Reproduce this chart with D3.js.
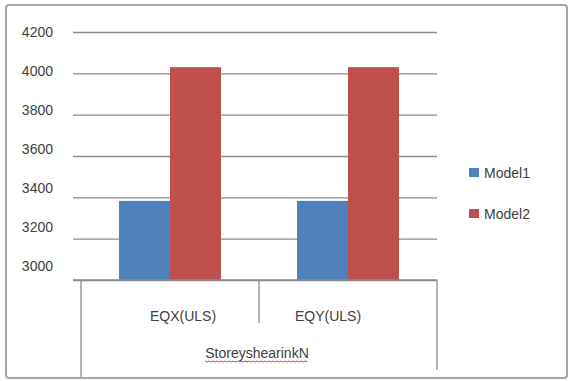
<!DOCTYPE html>
<html><head><meta charset="utf-8">
<script src="https://cdn.jsdelivr.net/npm/d3@7"></script>
<style>html,body{margin:0;padding:0;background:#fff;}svg{display:block;font-family:"Liberation Sans",Arial,sans-serif;}</style>
</head><body>
<svg id="c" width="569" height="381"></svg>
<script>
const categories = ["EQX(ULS)", "EQY(ULS)"];
const groupLabel = "StoreyshearinkN";
const seriesNames = ["Model1", "Model2"];
const model1 = [3383, 3383];
const model2 = [4030, 4030];
const yTicks = [3000, 3200, 3400, 3600, 3800, 4000, 4200];
const colors = ["#4F81BD", "#C0504D"];

(function () {
const svg = d3.select("#c");
const pLeft = 81, pRight = 437, pTop = 32, pBottom = 280;

svg.append("rect").attr("x", 6).attr("y", 5).attr("width", 561).attr("height", 373)
  .attr("rx", 3).attr("fill", "#fff").attr("stroke", "#a6a6a6").attr("stroke-width", 2);

const x0 = d3.scaleBand().domain(categories).range([pLeft, pRight]).paddingInner(0).paddingOuter(0);
const x1 = d3.scaleBand().domain(seriesNames).range([0, x0.bandwidth()]).paddingInner(0).paddingOuter(0.745);
const y = d3.scaleLinear().domain([3000, 4200]).range([pBottom, pTop]);
// tick labels in the reference sit on a slightly compressed scale
const yLab = d3.scaleLinear().domain([3000, 4200]).range([266, pTop]);

const yAxis = d3.axisLeft(y).tickValues(yTicks).tickSize(0).tickFormat(d3.format("d")).tickPadding(20);
const gy = svg.append("g").attr("transform", `translate(${pLeft - 8},0)`).call(yAxis);
gy.select(".domain").remove();
gy.selectAll(".tick line").attr("x1", 0).attr("x2", pRight - pLeft + 8)
  .attr("stroke", "#8c8c8c").attr("stroke-width", 1.3);
gy.selectAll(".tick text").attr("x", -20).attr("fill", "#404040").style("font-size", "14px")
  .attr("y", d => yLab(d) - y(d))
  .style("font-family", "'Liberation Sans',Arial,sans-serif");

const data = categories.map((c, i) => ({cat: c, vals: [model1[i], model2[i]]}));
const g = svg.append("g");
data.forEach(d => {
  d.vals.forEach((v, j) => {
    g.append("rect")
      .attr("x", x0(d.cat) + x1(seriesNames[j]))
      .attr("y", y(v))
      .attr("width", x1.bandwidth())
      .attr("height", y(3000) - y(v))
      .attr("fill", colors[j]);
  });
});

const ax = svg.append("g").attr("stroke", "#8c8c8c").attr("stroke-width", 1.3);
ax.append("line").attr("x1", pLeft - 8).attr("x2", pRight).attr("y1", pBottom).attr("y2", pBottom);
ax.append("line").attr("x1", pLeft).attr("x2", pLeft).attr("y1", pBottom).attr("y2", 377);
ax.append("line").attr("x1", x0(categories[1])).attr("x2", x0(categories[1])).attr("y1", pBottom).attr("y2", 323);
ax.append("line").attr("x1", pRight).attr("x2", pRight).attr("y1", pBottom).attr("y2", 370);

const labelShift = [13, -20];
categories.forEach((c, i) => {
  svg.append("text").attr("x", x0(c) + x0.bandwidth() / 2 + labelShift[i]).attr("y", 321)
    .attr("text-anchor", "middle").attr("fill", "#404040").style("font-size", "14px").text(c);
});
const gl = svg.append("text").attr("x", 257).attr("y", 358).attr("text-anchor", "middle")
  .attr("fill", "#404040").style("font-size", "14px").text(groupLabel);
const bb = gl.node().getBBox();
let p = "";
for (let xx = bb.x; xx <= bb.x + bb.width; xx += 2) {
  p += (p ? "L" : "M") + xx + "," + (361 + (Math.round((xx - bb.x) / 2) % 2));
}
svg.append("path").attr("d", p).attr("fill", "none").attr("stroke", "#e03030").attr("stroke-width", 1);

const lg = svg.append("g");
seriesNames.forEach((s, i) => {
  const yy = 168 + i * 41;
  lg.append("rect").attr("x", 469).attr("y", yy).attr("width", 10).attr("height", 9).attr("fill", colors[i]);
  lg.append("text").attr("x", 484).attr("y", yy + 10).attr("fill", "#404040").style("font-size", "14px").text(s);
});
})();
</script>
</body></html>
